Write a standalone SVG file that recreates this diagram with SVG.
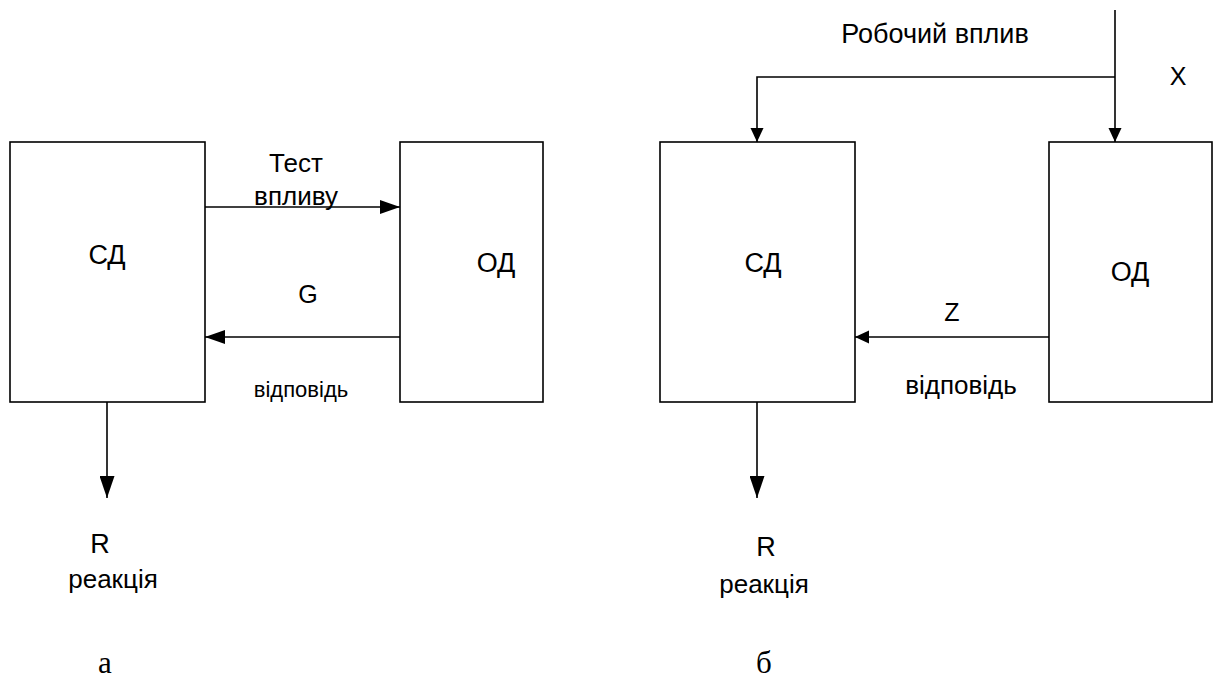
<svg xmlns="http://www.w3.org/2000/svg" width="1214" height="688" viewBox="0 0 1214 688">
<style>
.box{fill:#fff;stroke:#000;stroke-width:1.6}
.ln{fill:none;stroke:#000;stroke-width:1.6}
text{font-family:"Liberation Sans",Arial,sans-serif;fill:#000;text-anchor:middle}
.serif{font-family:"Liberation Serif","Times New Roman",serif}
</style>
<defs>
<marker id="ahL" markerUnits="userSpaceOnUse" markerWidth="20" markerHeight="14" refX="20" refY="7" orient="auto"><path d="M0,0 L20,7 L0,14 Z" fill="#000"/></marker>
<marker id="ahS" markerUnits="userSpaceOnUse" markerWidth="14" markerHeight="14" refX="14" refY="7" orient="auto"><path d="M0,0.5 L14,7 L0,13.5 Z" fill="#000"/></marker>
<marker id="ahR" markerUnits="userSpaceOnUse" markerWidth="22" markerHeight="15" refX="22" refY="7.5" orient="auto"><path d="M0,0 L22,7.5 L0,15 Z" fill="#000"/></marker>
</defs>
<g id="left-sd"><rect class="box" x="10" y="142" width="195" height="260"/><text x="107" y="264" font-size="27">СД</text></g>
<g id="left-od"><rect class="box" x="400" y="142" width="143" height="260"/><text x="496" y="272" font-size="27">ОД</text></g>
<g id="right-sd"><rect class="box" x="660" y="142" width="195" height="260"/><text x="763" y="272" font-size="27">СД</text></g>
<g id="right-od"><rect class="box" x="1049" y="142" width="163" height="260"/><text x="1130" y="281" font-size="27">ОД</text></g>
<g id="connectors">
<line class="ln" x1="205" y1="207" x2="400" y2="207" marker-end="url(#ahL)"/>
<line class="ln" x1="400" y1="337" x2="205" y2="337" marker-end="url(#ahL)"/>
<line class="ln" x1="107" y1="402" x2="107" y2="498" marker-end="url(#ahR)"/>
<line class="ln" x1="1115" y1="10" x2="1115" y2="142" marker-end="url(#ahS)"/>
<polyline class="ln" points="1115,77 757,77 757,142" marker-end="url(#ahS)"/>
<line class="ln" x1="1049" y1="337" x2="855" y2="337" marker-end="url(#ahS)"/>
<line class="ln" x1="757" y1="402" x2="757" y2="498" marker-end="url(#ahR)"/>
</g>
<g id="labels">
<text x="296" y="172" font-size="26">Тест</text>
<text x="296" y="205" font-size="26">впливу</text>
<text x="308" y="303" font-size="25">G</text>
<text x="301" y="397" font-size="22">відповідь</text>
<text x="100" y="553" font-size="27">R</text>
<text x="113" y="588" font-size="26">реакція</text>
<text x="935" y="43" font-size="27">Робочий вплив</text>
<text x="1178" y="85" font-size="25">X</text>
<text x="952" y="321" font-size="25">Z</text>
<text x="961" y="394" font-size="26">відповідь</text>
<text x="766" y="556" font-size="27">R</text>
<text x="764" y="593" font-size="26">реакція</text>
<text class="serif" x="105" y="673" font-size="31">а</text>
<text class="serif" x="764" y="673" font-size="31">б</text>
</g>
</svg>
